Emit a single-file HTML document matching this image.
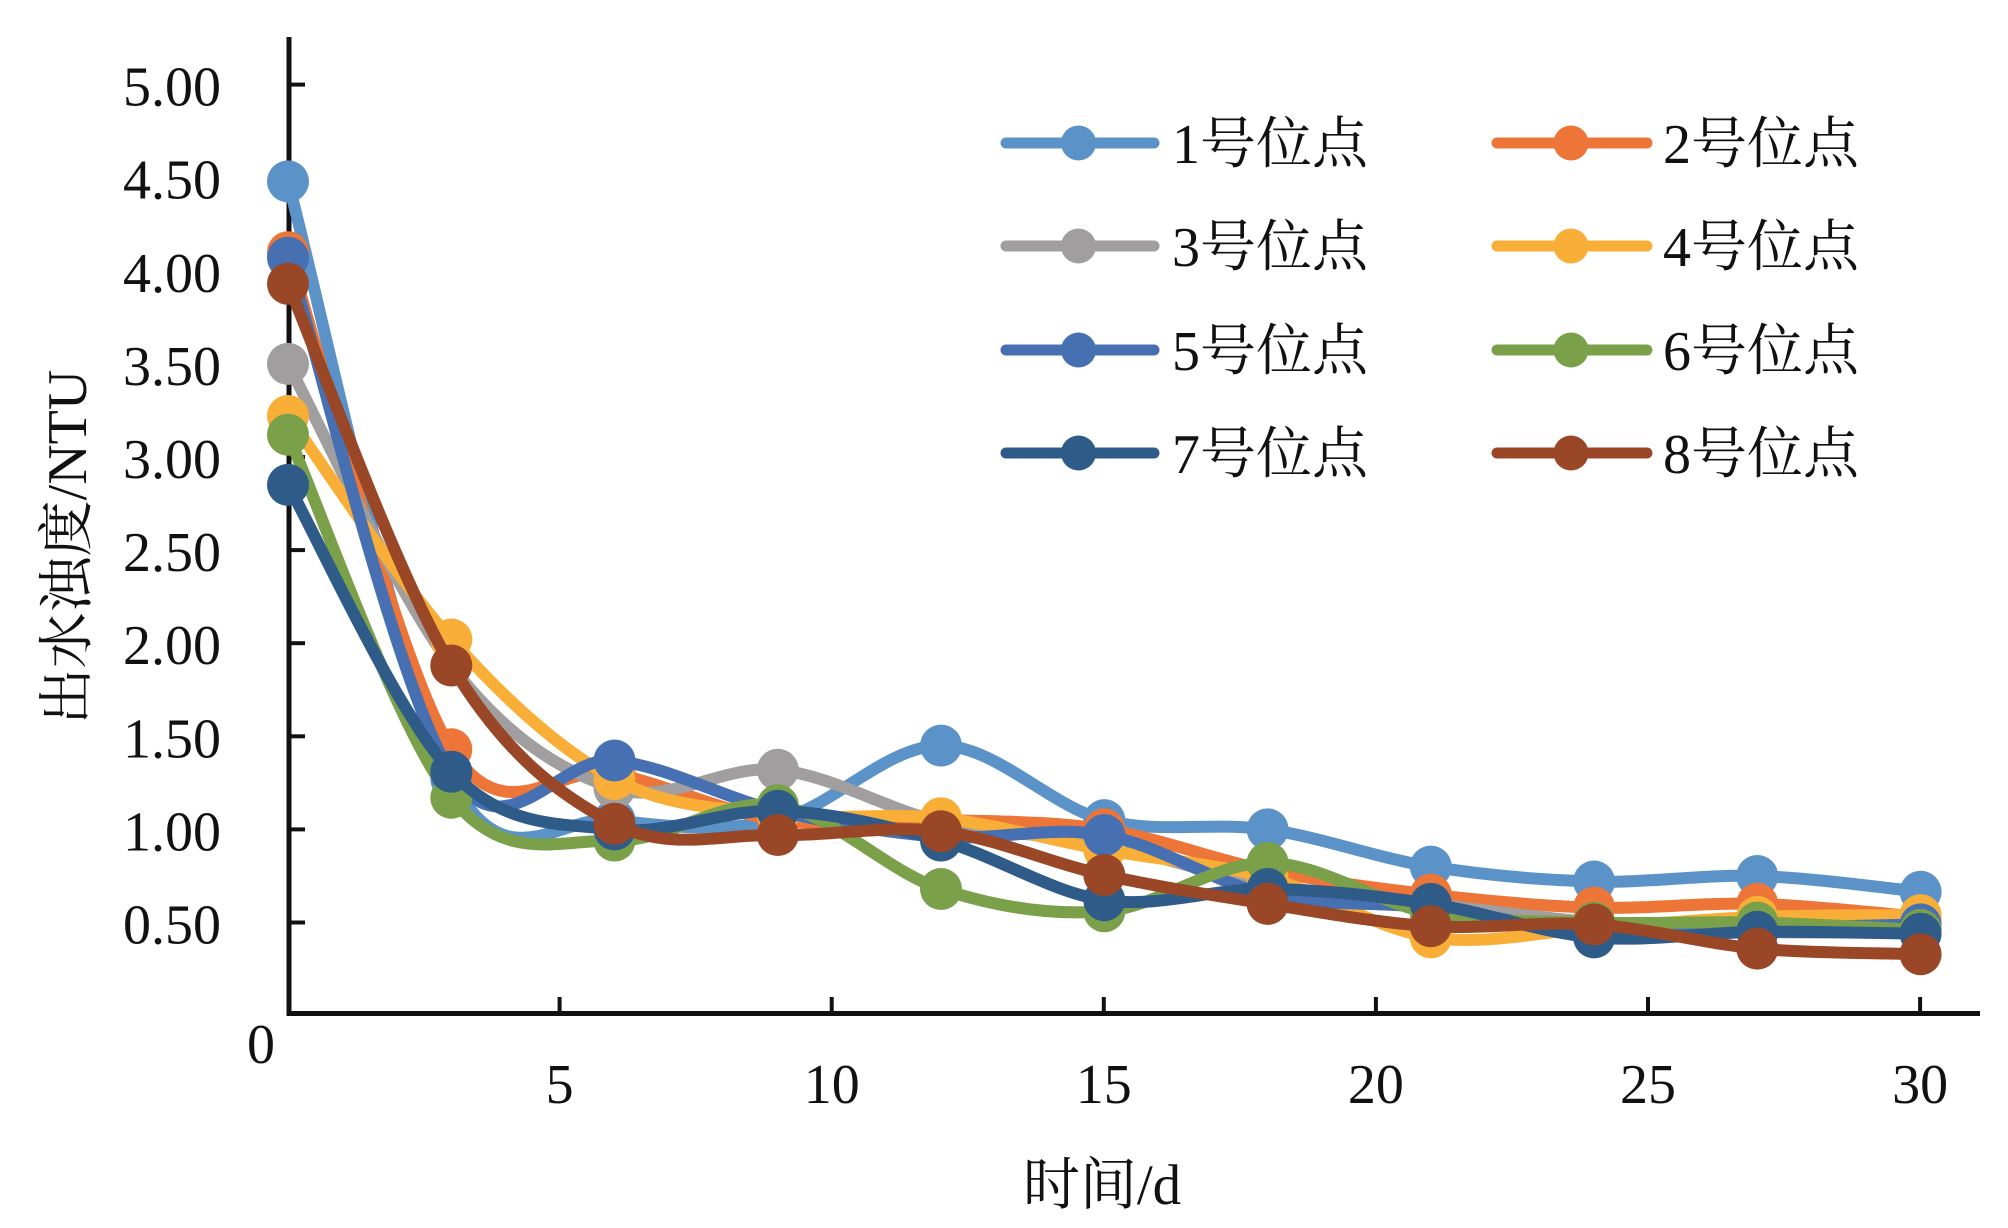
<!DOCTYPE html>
<html>
<head>
<meta charset="utf-8">
<style>
  html, body { margin: 0; padding: 0; background: #ffffff; }
  svg { display: block; }
  .t { font-family: "Liberation Serif", "Noto Serif CJK SC", serif; fill: #111; }
</style>
</head>
<body>
<svg id="chart" xmlns="http://www.w3.org/2000/svg" width="2008" height="1228" viewBox="0 0 2008 1228">
  <rect x="0" y="0" width="2008" height="1228" fill="#ffffff"/>

  <!-- Y axis title -->
  <text class="t" font-size="56" text-anchor="middle" transform="translate(86,547) rotate(-90)">出水浊度/NTU</text>

  <!-- Y tick labels -->
  <g class="t" font-size="56" text-anchor="end">
    <text x="221" y="105.6">5.00</text>
    <text x="221" y="198.7">4.50</text>
    <text x="221" y="291.8">4.00</text>
    <text x="221" y="384.9">3.50</text>
    <text x="221" y="478.0">3.00</text>
    <text x="221" y="571.1">2.50</text>
    <text x="221" y="664.2">2.00</text>
    <text x="221" y="757.3">1.50</text>
    <text x="221" y="850.4">1.00</text>
    <text x="221" y="943.5">0.50</text>
  </g>
  <text class="t" font-size="56" text-anchor="middle" x="261" y="1063">0</text>

  <!-- X tick labels -->
  <g class="t" font-size="56" text-anchor="middle">
    <text x="559.6" y="1103">5</text>
    <text x="831.7" y="1103">10</text>
    <text x="1103.8" y="1103">15</text>
    <text x="1375.9" y="1103">20</text>
    <text x="1648.0" y="1103">25</text>
    <text x="1920.1" y="1103">30</text>
  </g>

  <!-- X axis title -->
  <text class="t" font-size="57" text-anchor="middle" x="1102" y="1204">时间/d</text>

  <!-- Axes -->
  <g stroke="#111" fill="none">
    <line x1="289" y1="37" x2="289" y2="1016" stroke-width="5"/>
    <line x1="287" y1="1013.5" x2="1980" y2="1013.5" stroke-width="5"/>
    <g stroke-width="4">
      <line x1="289" y1="84.6" x2="305" y2="84.6"/>
      <line x1="289" y1="177.7" x2="305" y2="177.7"/>
      <line x1="289" y1="270.8" x2="305" y2="270.8"/>
      <line x1="289" y1="363.9" x2="305" y2="363.9"/>
      <line x1="289" y1="457.0" x2="305" y2="457.0"/>
      <line x1="289" y1="550.1" x2="305" y2="550.1"/>
      <line x1="289" y1="643.2" x2="305" y2="643.2"/>
      <line x1="289" y1="736.3" x2="305" y2="736.3"/>
      <line x1="289" y1="829.4" x2="305" y2="829.4"/>
      <line x1="289" y1="922.5" x2="305" y2="922.5"/>
      <line x1="559.6" y1="997" x2="559.6" y2="1013"/>
      <line x1="831.7" y1="997" x2="831.7" y2="1013"/>
      <line x1="1103.8" y1="997" x2="1103.8" y2="1013"/>
      <line x1="1375.9" y1="997" x2="1375.9" y2="1013"/>
      <line x1="1648.0" y1="997" x2="1648.0" y2="1013"/>
      <line x1="1920.1" y1="997" x2="1920.1" y2="1013"/>
    </g>
  </g>

  <!-- Series (generated) -->
  <g id="series"></g>

  <!-- Legend -->
  <g stroke-linecap="round" stroke-width="11" fill="none">
    <line x1="1006" y1="143" x2="1154" y2="143" stroke="#5B93C8"/>
    <line x1="1006" y1="246" x2="1154" y2="246" stroke="#A09E9E"/>
    <line x1="1006" y1="350" x2="1154" y2="350" stroke="#4670B2"/>
    <line x1="1006" y1="453" x2="1154" y2="453" stroke="#2F5B89"/>
    <line x1="1497" y1="143" x2="1647" y2="143" stroke="#EC7537"/>
    <line x1="1497" y1="246" x2="1647" y2="246" stroke="#F9AE38"/>
    <line x1="1497" y1="350" x2="1647" y2="350" stroke="#7AA04A"/>
    <line x1="1497" y1="453" x2="1647" y2="453" stroke="#9A4727"/>
  </g>
  <g>
    <circle cx="1078.5" cy="143" r="17.5" fill="#5B93C8"/>
    <circle cx="1078.5" cy="246" r="17.5" fill="#A09E9E"/>
    <circle cx="1078.5" cy="350" r="17.5" fill="#4670B2"/>
    <circle cx="1078.5" cy="453" r="17.5" fill="#2F5B89"/>
    <circle cx="1571" cy="143" r="17.5" fill="#EC7537"/>
    <circle cx="1571" cy="246" r="17.5" fill="#F9AE38"/>
    <circle cx="1571" cy="350" r="17.5" fill="#7AA04A"/>
    <circle cx="1571" cy="453" r="17.5" fill="#9A4727"/>
  </g>
  <g class="t" font-size="56">
    <text x="1172" y="163">1号位点</text>
    <text x="1172" y="266">3号位点</text>
    <text x="1172" y="370">5号位点</text>
    <text x="1172" y="473">7号位点</text>
    <text x="1663" y="163">2号位点</text>
    <text x="1663" y="266">4号位点</text>
    <text x="1663" y="370">6号位点</text>
    <text x="1663" y="473">8号位点</text>
  </g>
</svg>
<script>
(function(){
  var NS = "http://www.w3.org/2000/svg";
  function X(t){ return 288 + 54.42*t; }
  function Y(v){ return 1015.6 - 186.2*v; }
  var ts = [0,3,6,9,12,15,18,21,24,27,30];
  var series = [
    {c:"#5B93C8", d:[4.48,1.27,1.05,1.05,1.45,1.05,1.00,0.80,0.72,0.75,0.665]},
    {c:"#EC7537", d:[4.10,1.43,1.30,1.05,1.05,1.00,0.78,0.65,0.58,0.60,0.53]},
    {c:"#A09E9E", d:[3.50,1.88,1.22,1.32,1.04,0.92,0.70,0.60,0.50,0.45,0.45]},
    {c:"#F9AE38", d:[3.22,2.02,1.27,1.08,1.06,0.89,0.74,0.42,0.47,0.53,0.54]},
    {c:"#4670B2", d:[4.07,1.30,1.37,1.10,0.96,0.97,0.65,0.58,0.45,0.47,0.49]},
    {c:"#7AA04A", d:[3.12,1.17,0.94,1.13,0.68,0.56,0.82,0.55,0.50,0.50,0.46]},
    {c:"#2F5B89", d:[2.85,1.31,1.00,1.10,0.94,0.62,0.68,0.60,0.42,0.45,0.44]},
    {c:"#9A4727", d:[3.93,1.88,1.03,0.97,0.99,0.755,0.60,0.48,0.49,0.36,0.33]}
  ];
  var g = document.getElementById("series");
  series.forEach(function(s){
    var p = s.d.map(function(v,i){ return [X(ts[i]), Y(v)]; });
    var n = p.length;
    var d = "M" + p[0][0].toFixed(1) + "," + p[0][1].toFixed(1);
    for (var i=0;i<n-1;i++){
      var p0 = p[i>0?i-1:i], p1 = p[i], p2 = p[i+1], p3 = p[i+2<n?i+2:i+1];
      var c1x = p1[0] + (p2[0]-p0[0])/6, c1y = p1[1] + (p2[1]-p0[1])/6;
      var c2x = p2[0] - (p3[0]-p1[0])/6, c2y = p2[1] - (p3[1]-p1[1])/6;
      d += " C" + c1x.toFixed(1)+","+c1y.toFixed(1)+" "+c2x.toFixed(1)+","+c2y.toFixed(1)+" "+p2[0].toFixed(1)+","+p2[1].toFixed(1);
    }
    var path = document.createElementNS(NS,"path");
    path.setAttribute("d", d);
    path.setAttribute("fill","none");
    path.setAttribute("stroke", s.c);
    path.setAttribute("stroke-width","12");
    path.setAttribute("stroke-linecap","round");
    path.setAttribute("stroke-linejoin","round");
    g.appendChild(path);
    p.forEach(function(q){
      var c = document.createElementNS(NS,"circle");
      c.setAttribute("cx", q[0].toFixed(1));
      c.setAttribute("cy", q[1].toFixed(1));
      c.setAttribute("r", "21");
      c.setAttribute("fill", s.c);
      g.appendChild(c);
    });
  });
})();
</script>
</body>
</html>
